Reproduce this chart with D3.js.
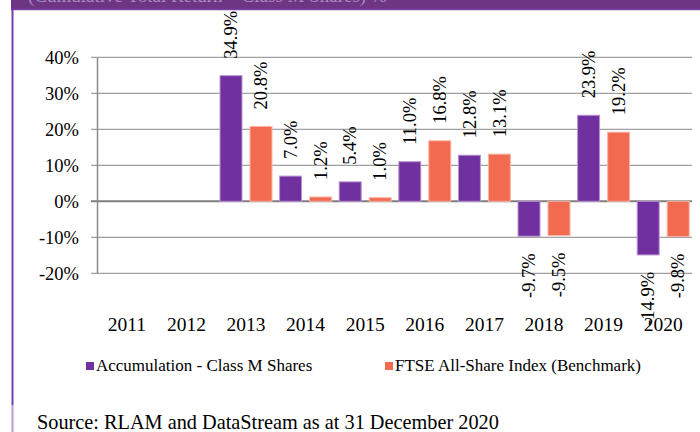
<!DOCTYPE html>
<html>
<head>
<meta charset="utf-8">
<script src="https://d3js.org/d3.v7.min.js"></script>
<style>
  body { margin: 0; background: #fff; }
  svg text { font-family: "Liberation Serif", "Times New Roman", serif; fill: #000; }
</style>
</head>
<body>
<script>
var years = ["2011", "2012", "2013", "2014", "2015", "2016", "2017", "2018", "2019", "2020"];
var fundValues = [null, null, 34.9, 7.0, 5.4, 11.0, 12.8, -9.7, 23.9, -14.9];
var indexValues = [null, null, 20.8, 1.2, 1.0, 16.8, 13.1, -9.5, 19.2, -9.8];
var seriesNames = ["Accumulation - Class M Shares", "FTSE All-Share Index (Benchmark)"];
var yTicks = [-20, -10, 0, 10, 20, 30, 40];

var colors = ["#7030a0", "#f26b50"];
var strokes = ["#b896d0", "#f9b4a4"];

var width = 700, height = 432;
var svg = d3.select("body").append("svg")
    .attr("width", width)
    .attr("height", height);

// frame: purple header strip and left border
svg.append("clipPath").attr("id", "hdr")
    .append("rect").attr("x", 11).attr("y", 0).attr("width", 689).attr("height", 9);
svg.append("rect")
    .attr("x", 11).attr("y", 0).attr("width", 689).attr("height", 10)
    .attr("fill", "#6e3585");
svg.append("text")
    .attr("clip-path", "url(#hdr)")
    .attr("x", 28).attr("y", 1.5)
    .attr("font-size", 19)
    .style("fill", "#a88cbc")
    .text("(Cumulative Total Return – Class M Shares) %");
svg.append("line")
    .attr("x1", 11).attr("x2", 700).attr("y1", 9.5).attr("y2", 9.5)
    .attr("stroke", "#7b3fa8").attr("stroke-width", 1.5);
svg.append("line")
    .attr("x1", 12.5).attr("x2", 12.5).attr("y1", 9).attr("y2", 405)
    .attr("stroke", "#7b3fa8").attr("stroke-width", 2);
svg.append("line")
    .attr("x1", 12.5).attr("x2", 12.5).attr("y1", 405).attr("y2", 432)
    .attr("stroke", "#b89ad0").attr("stroke-width", 2);

// scales
var x = d3.scaleBand()
    .domain(years)
    .range([97, 693]);

var x1 = d3.scaleBand()
    .domain([0, 1])
    .range([0, x.bandwidth()])
    .paddingInner(0.267)
    .paddingOuter(0.127);

var y = d3.scaleLinear()
    .domain([-20, 40])
    .range([273.3, 57.3]);

// gridlines
svg.append("g")
    .selectAll("line")
    .data(yTicks)
    .enter().append("line")
    .attr("x1", 91)
    .attr("x2", 692)
    .attr("y1", function(d) { return y(d); })
    .attr("y2", function(d) { return y(d); })
    .attr("stroke", function(d) { return d === 0 ? "#7f7f7f" : "#a0a0a0"; })
    .attr("stroke-width", function(d) { return d === 0 ? 2 : 1.2; });

// y axis
var yAxis = svg.append("g")
    .attr("transform", "translate(97,0)")
    .call(d3.axisLeft(y)
        .tickValues(yTicks)
        .tickSize(0)
        .tickPadding(18)
        .tickFormat(function(d) { return d + "%"; }));
yAxis.select(".domain")
    .attr("stroke", "#8a8a8a")
    .attr("stroke-width", 1.5);
yAxis.selectAll("text")
    .attr("font-size", 18.5)
    .attr("font-family", null);

// bars
var rows = [];
years.forEach(function(yr, i) {
    [fundValues[i], indexValues[i]].forEach(function(v, s) {
        if (v !== null) rows.push({ year: yr, s: s, v: v });
    });
});

svg.append("g")
    .selectAll("rect")
    .data(rows)
    .enter().append("rect")
    .attr("x", function(d) { return x(d.year) + x1(d.s); })
    .attr("width", x1.bandwidth())
    .attr("y", function(d) { return y(Math.max(0, d.v)); })
    .attr("height", function(d) { return Math.abs(y(d.v) - y(0)); })
    .attr("fill", function(d) { return colors[d.s]; })
    .attr("stroke", function(d) { return strokes[d.s]; })
    .attr("stroke-width", 1);

// value labels (rotated)
svg.append("g")
    .selectAll("text")
    .data(rows)
    .enter().append("text")
    .attr("transform", function(d) {
        var cx = x(d.year) + x1(d.s) + x1.bandwidth() / 2;
        var cy = d.v >= 0 ? y(d.v) - 17 : y(d.v) + 17;
        return "translate(" + cx + "," + cy + ") rotate(-90)";
    })
    .attr("dy", "0.33em")
    .attr("text-anchor", function(d) { return d.v >= 0 ? "start" : "end"; })
    .attr("font-size", 18.5)
    .text(function(d) { return d.v.toFixed(1) + "%"; });

// year labels
svg.append("g")
    .selectAll("text")
    .data(years)
    .enter().append("text")
    .attr("x", function(d) { return x(d) + x.bandwidth() / 2; })
    .attr("y", 331)
    .attr("text-anchor", "middle")
    .attr("font-size", 19.5)
    .text(function(d) { return d; });

// legend
var legendX = [86, 385];
var legend = svg.append("g")
    .selectAll("g")
    .data(seriesNames)
    .enter().append("g")
    .attr("transform", function(d, i) { return "translate(" + legendX[i] + ",362)"; });
legend.append("rect")
    .attr("width", 8)
    .attr("height", 8)
    .attr("fill", function(d, i) { return colors[i]; });
legend.append("text")
    .attr("x", 10)
    .attr("y", 9)
    .attr("font-size", 17)
    .text(function(d) { return d; });

// source
svg.append("text")
    .attr("x", 37)
    .attr("y", 429)
    .attr("font-size", 20.3)
    .text("Source: RLAM and DataStream as at 31 December 2020");
</script>
</body>
</html>
